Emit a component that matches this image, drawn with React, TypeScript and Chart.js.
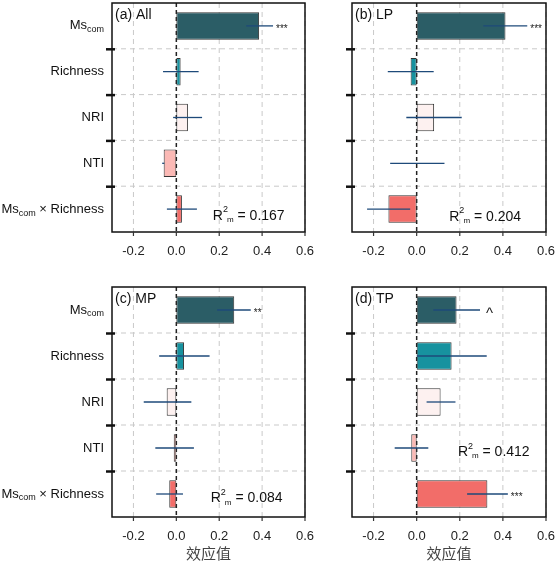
import { useEffect, useRef } from "react"
import { Chart, registerables, type Plugin } from "chart.js"

Chart.register(...registerables)

const FONT = "'Liberation Sans', Arial, sans-serif"

// predictors, top to bottom ("_com" marks a subscript)
const predictors = ["Ms_com", "Richness", "NRI", "NTI", "Ms_com × Richness"]
const xTicks = [-0.2, 0, 0.2, 0.4, 0.6]
const barColors = ["#2b5d66", "#17929f", "#fdf1f0", "#fbb9b5", "#f26d69"]

// (a) All
const allEst = [0.386, 0.02, 0.054, -0.059, 0.026]
const allLo = [0.326, -0.062, -0.015, -0.066, -0.044]
const allHi = [0.451, 0.104, 0.12, -0.056, 0.096]
const allSig = ["***", "", "", "", ""]

// (b) LP
const lpEst = [0.412, -0.028, 0.081, 0, -0.131]
const lpLo = [0.309, -0.134, -0.048, -0.123, -0.23]
const lpHi = [0.513, 0.079, 0.209, 0.129, -0.03]
const lpSig = ["***", "", "", "", ""]

// (c) MP
const mpEst = [0.27, 0.036, -0.045, -0.012, -0.033]
const mpLo = [0.19, -0.08, -0.152, -0.098, -0.094]
const mpHi = [0.347, 0.155, 0.07, 0.082, 0.031]
const mpSig = ["**", "", "", "", ""]

// (d) TP
const tpEst = [0.185, 0.162, 0.111, -0.025, 0.328]
const tpLo = [0.077, 0.001, 0.046, -0.102, 0.234]
const tpHi = [0.294, 0.325, 0.18, 0.054, 0.423]
const tpSig = ["^", "", "", "", "***"]

interface PanelProps {
  title: string
  est: number[]
  lo: number[]
  hi: number[]
  sig: string[]
  r2: string
  r2X: number
  r2Y: number
  showLabels: boolean
  showTitle: boolean
  left: number
  top: number
  width: number
  height: number
  areaLeft: number
  areaTop: number
  areaBottom: number
  padRight: number
}

function drawRich(ctx: CanvasRenderingContext2D, label: string, xRight: number, y: number) {
  const parts = label.split(/_(com)/)
  const fonts = parts.map((_, i) => (i % 2 ? `9px ${FONT}` : `13px ${FONT}`))
  const widths = parts.map((p, i) => {
    ctx.font = fonts[i]
    return ctx.measureText(p).width
  })
  let x = xRight - widths.reduce((a, b) => a + b, 0)
  parts.forEach((p, i) => {
    ctx.font = fonts[i]
    ctx.fillText(p, x, i % 2 ? y + 4 : y)
    x += widths[i]
  })
}

function Panel(props: PanelProps) {
  const canvasRef = useRef<HTMLCanvasElement>(null)

  useEffect(() => {
    if (!canvasRef.current) return
    const p = props

    const decor: Plugin<"bar"> = {
      id: "decor",
      beforeDatasetsDraw(chart) {
        const { ctx, chartArea: a, scales } = chart
        const xs = scales.x
        const ys = scales.y
        ctx.save()
        ctx.strokeStyle = "#c9c9c9"
        ctx.lineWidth = 1
        ctx.setLineDash([5, 4])
        xTicks.forEach((v) => {
          if (v === 0) return
          const x = xs.getPixelForValue(v)
          ctx.beginPath()
          ctx.moveTo(x, a.top)
          ctx.lineTo(x, a.bottom)
          ctx.stroke()
        })
        for (let i = 0; i < predictors.length - 1; i++) {
          const y = (ys.getPixelForValue(i) + ys.getPixelForValue(i + 1)) / 2
          ctx.beginPath()
          ctx.moveTo(a.left, y)
          ctx.lineTo(a.right, y)
          ctx.stroke()
        }
        ctx.strokeStyle = "#222"
        ctx.lineWidth = 1.5
        ctx.setLineDash([4, 3])
        const x0 = xs.getPixelForValue(0)
        ctx.beginPath()
        ctx.moveTo(x0, a.top)
        ctx.lineTo(x0, a.bottom)
        ctx.stroke()
        ctx.restore()
      },
      afterDatasetsDraw(chart) {
        const { ctx, chartArea: a, scales } = chart
        const xs = scales.x
        const ys = scales.y
        ctx.save()
        // interval lines and significance marks
        ctx.strokeStyle = "#1e4a7a"
        ctx.lineWidth = 1.3
        p.est.forEach((_, i) => {
          const y = ys.getPixelForValue(i)
          const x1 = xs.getPixelForValue(p.lo[i])
          const x2 = xs.getPixelForValue(p.hi[i])
          ctx.beginPath()
          ctx.moveTo(x1, y)
          ctx.lineTo(x2, y)
          ctx.stroke()
          if (p.sig[i]) {
            ctx.fillStyle = "#222"
            ctx.textAlign = "left"
            ctx.textBaseline = "middle"
            if (p.sig[i] === "^") {
              ctx.font = `15px ${FONT}`
              ctx.fillText("^", x2 + 6, y + 4)
            } else {
              ctx.font = `10px ${FONT}`
              ctx.fillText(p.sig[i], x2 + 3, y + 3)
            }
          }
        })
        // frame
        ctx.strokeStyle = "#111"
        ctx.lineWidth = 1.5
        ctx.strokeRect(a.left, a.top, a.right - a.left, a.bottom - a.top)
        // y ticks between rows
        ctx.lineWidth = 2.5
        for (let i = 0; i < predictors.length - 1; i++) {
          const y = (ys.getPixelForValue(i) + ys.getPixelForValue(i + 1)) / 2 + 0.5
          ctx.beginPath()
          ctx.moveTo(a.left - 6, y)
          ctx.lineTo(a.left + 3, y)
          ctx.stroke()
        }
        // x ticks
        ctx.lineWidth = 1.2
        ctx.strokeStyle = "#333"
        xTicks.forEach((v) => {
          const x = xs.getPixelForValue(v)
          ctx.beginPath()
          ctx.moveTo(x, a.bottom)
          ctx.lineTo(x, a.bottom + 4)
          ctx.stroke()
        })
        // y labels
        ctx.fillStyle = "#111"
        ctx.textAlign = "left"
        ctx.textBaseline = "middle"
        if (p.showLabels) {
          predictors.forEach((lab, i) => drawRich(ctx, lab, a.left - 8, ys.getPixelForValue(i)))
        }
        // panel title
        ctx.font = `14px ${FONT}`
        ctx.fillText(p.title, a.left + 3, a.top + 12)
        // R2m annotation
        const parts = [
          { t: "R", f: `14px ${FONT}`, dy: 0 },
          { t: "2", f: `9px ${FONT}`, dy: -6 },
          { t: "m", f: `8px ${FONT}`, dy: 4 },
          { t: " = " + p.r2, f: `14px ${FONT}`, dy: 0 },
        ]
        const ws = parts.map((s) => {
          ctx.font = s.f
          return ctx.measureText(s.t).width
        })
        let x = xs.getPixelForValue(p.r2X) - ws.reduce((s, w) => s + w, 0) / 2
        const yy = ys.getPixelForValue(p.r2Y)
        parts.forEach((s, i) => {
          ctx.font = s.f
          ctx.fillText(s.t, x, yy + s.dy)
          x += ws[i] - (i === 1 ? 1 : 0)
        })
        ctx.restore()
      },
    }

    const chart = new Chart(canvasRef.current, {
      type: "bar",
      data: {
        labels: predictors,
        datasets: [
          {
            data: p.est,
            backgroundColor: barColors,
            borderColor: "#333",
            borderWidth: 1,
            borderSkipped: false,
            barPercentage: 0.6,
            categoryPercentage: 1,
          },
        ],
      },
      options: {
        indexAxis: "y",
        animation: false,
        responsive: false,
        maintainAspectRatio: false,
        layout: { padding: { top: p.areaTop, right: p.padRight, left: 0, bottom: 0 } },
        plugins: { legend: { display: false }, tooltip: { enabled: false } },
        scales: {
          x: {
            type: "linear",
            min: -0.3,
            max: 0.6,
            afterBuildTicks: (s) => {
              s.ticks = xTicks.map((v) => ({ value: v }))
            },
            afterFit: (s) => {
              s.height = p.height - p.areaBottom
              s.paddingLeft = 0
              s.paddingRight = 0
            },
            grid: { display: false },
            border: { display: false },
            ticks: {
              padding: 4,
              color: "#222",
              font: { family: FONT, size: 13 },
              callback: (v) => Number(v).toFixed(1),
            },
            title: {
              display: p.showTitle,
              text: "效应值",
              color: "#444",
              font: { family: "'Noto Sans CJK SC', sans-serif", size: 15 },
              padding: { top: 0, bottom: 3 },
            },
          },
          y: {
            type: "category",
            grid: { display: false },
            border: { display: false },
            ticks: { display: false },
            afterFit: (s) => {
              s.width = p.areaLeft
              s.paddingTop = 0
              s.paddingBottom = 0
            },
          },
        },
      },
      plugins: [decor],
    })

    return () => chart.destroy()
  }, [])

  return (
    <div
      style={{
        position: "absolute",
        left: props.left,
        top: props.top,
        width: props.width,
        height: props.height,
      }}
    >
      <canvas ref={canvasRef} width={props.width} height={props.height}></canvas>
    </div>
  )
}

export default function App() {
  return (
    <div style={{ position: "absolute", left: 0, top: 0, width: 557, height: 565, background: "#fff" }}>
      <Panel
        title="(a) All" est={allEst} lo={allLo} hi={allHi} sig={allSig}
        r2="0.167" r2X={0.34} r2Y={4.15} showLabels showTitle={false}
        left={0} top={0} width={320} height={262} areaLeft={112} areaTop={3} areaBottom={232} padRight={15}
      />
      <Panel
        title="(b) LP" est={lpEst} lo={lpLo} hi={lpHi} sig={lpSig}
        r2="0.204" r2X={0.32} r2Y={4.17} showLabels={false} showTitle={false}
        left={322} top={0} width={235} height={262} areaLeft={30} areaTop={3} areaBottom={232} padRight={11}
      />
      <Panel
        title="(c) MP" est={mpEst} lo={mpLo} hi={mpHi} sig={mpSig}
        r2="0.084" r2X={0.33} r2Y={4.1} showLabels showTitle
        left={0} top={270} width={320} height={295} areaLeft={112} areaTop={17} areaBottom={247} padRight={15}
      />
      <Panel
        title="(d) TP" est={tpEst} lo={tpLo} hi={tpHi} sig={tpSig}
        r2="0.412" r2X={0.36} r2Y={3.09} showLabels={false} showTitle
        left={322} top={270} width={235} height={295} areaLeft={30} areaTop={17} areaBottom={247} padRight={11}
      />
    </div>
  )
}
